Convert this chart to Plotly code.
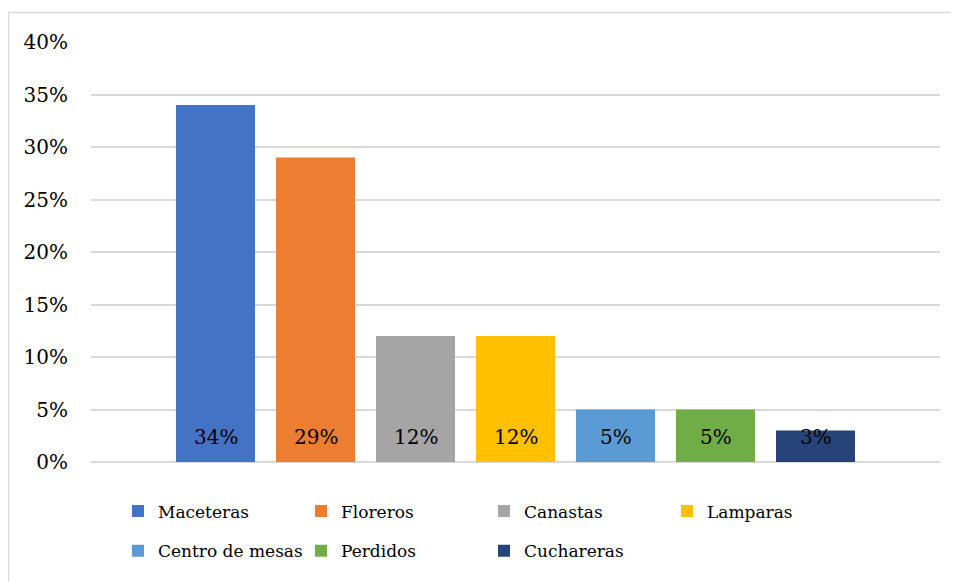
import plotly.graph_objects as go

names = ["Maceteras", "Floreros", "Canastas", "Lamparas", "Centro de mesas", "Perdidos", "Cuchareras"]
values = [0.34, 0.29, 0.12, 0.12, 0.05, 0.05, 0.03]
labels = ["34%", "29%", "12%", "12%", "5%", "5%", "3%"]
colors = ["#4472C4", "#ED7D31", "#A5A5A5", "#FFC000", "#5B9BD5", "#70AD47", "#264478"]
yticks = [0, 0.05, 0.10, 0.15, 0.20, 0.25, 0.30, 0.35, 0.40]
yticklabels = ["0%", "5%", "10%", "15%", "20%", "25%", "30%", "35%", "40%"]

FONT = "DejaVu Serif"
OFF = 8
W, H = 950, 574
ML, MT = 91 - OFF, 41.5 - OFF
MR = W - (940 - OFF)
MB = H - (462.5 - OFF)
PW, PH = W - ML - MR, H - MT - MB

fig = go.Figure()
for i, (n, v, c) in enumerate(zip(names, values, colors)):
    fig.add_trace(go.Bar(
        x=[n], y=[v], name=n, marker=dict(color=c, line=dict(width=0)),
        legend="legend" if i < 4 else "legend2",
        hoverinfo="skip",
    ))
    fig.add_annotation(x=n, y=0, text=labels[i], showarrow=False, yshift=25,
                       yanchor="middle", xanchor="center",
                       font=dict(family=FONT, size=20, color="#000000"))

def px_x(p):
    return (p - OFF - ML) / PW

def px_y(p):
    return 1 - (p - OFF - MT) / PH

legend_common = dict(orientation="h", xanchor="left", yanchor="middle",
                     entrywidth=138, entrywidthmode="pixels", itemwidth=30,
                     font=dict(family=FONT, size=17, color="#000000"),
                     bgcolor="rgba(0,0,0,0)")

fig.update_layout(
    width=W, height=H,
    margin=dict(l=ML, r=MR, t=MT, b=MB),
    paper_bgcolor="white", plot_bgcolor="white",
    barmode="overlay", bargap=0.21,
    font=dict(family=FONT, size=20, color="#000000"),
    xaxis=dict(showticklabels=False, showgrid=False, zeroline=False, showline=False,
               range=[-1.245, 7.245]),
    yaxis=dict(range=[0, 0.40], tickvals=yticks, ticktext=yticklabels,
               showgrid=True, gridcolor="#D9D9D9", gridwidth=1.5,
               zeroline=True, zerolinecolor="#D9D9D9", zerolinewidth=1.5,
               showline=False, ticks="", ticklabelstandoff=22,
               tickfont=dict(family=FONT, size=20, color="#000000")),
    legend=dict(x=px_x(118), y=px_y(512), **legend_common),
    legend2=dict(x=px_x(118), y=px_y(552), **legend_common),
    shapes=[
        dict(type="line", xref="paper", yref="paper", x0=px_x(8.5), x1=px_x(8.5), y0=px_y(12), y1=px_y(600),
             line=dict(color="#D9D9D9", width=1.5)),
        dict(type="line", xref="paper", yref="paper", x0=px_x(8), x1=px_x(970), y0=px_y(12), y1=px_y(12),
             line=dict(color="#D9D9D9", width=1.5)),
    ],
)

fig.write_html("out.html")
